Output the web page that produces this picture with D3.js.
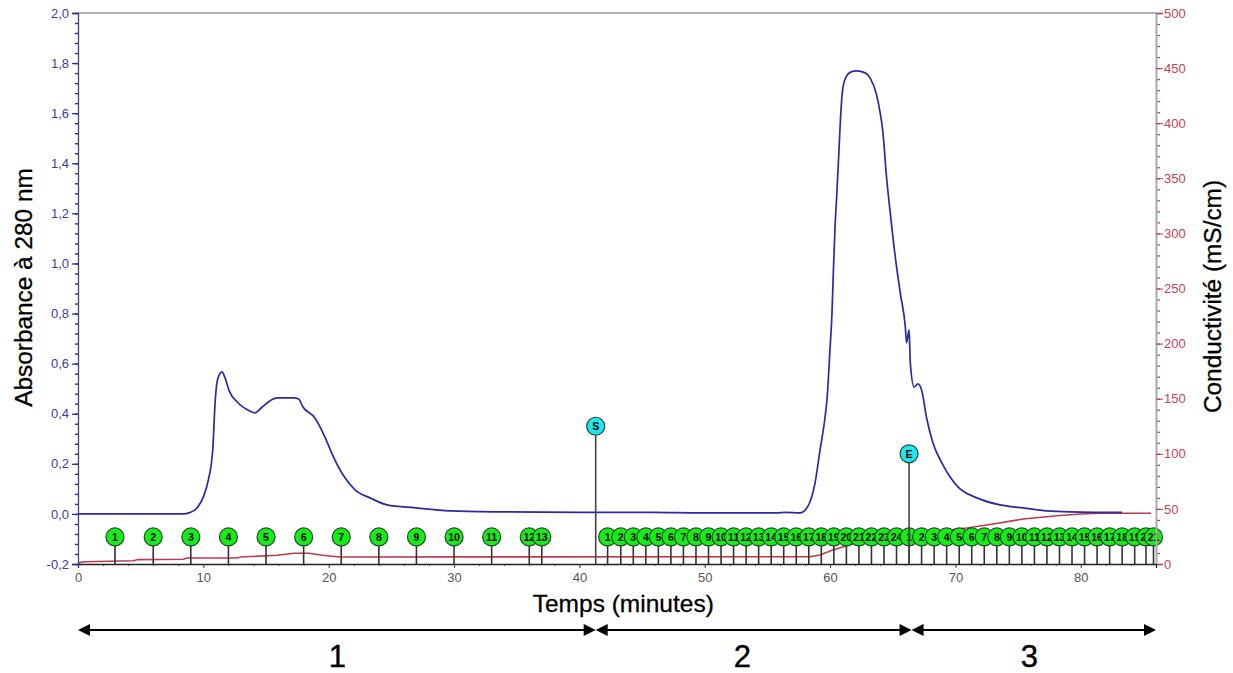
<!DOCTYPE html>
<html>
<head>
<meta charset="utf-8">
<script src="https://cdn.jsdelivr.net/npm/d3@7"></script>
<style>
  html, body { margin: 0; padding: 0; background: #fff; }
  svg { display: block; }
  text { font-family: "Liberation Sans", Arial, sans-serif; }
</style>
</head>
<body>
<div id="chart"></div>
<script>
// Values
var absTime = [0,8.4,8.9,9.5,10,10.4,10.75,10.95,11.15,11.5,11.7,12.1,12.7,13.7,14.1,14.7,15.3,15.9,17.2,17.6,17.95,18.9,19.7,20.3,21.3,22.1,23.3,24.65,26.9,29.7,33.7,40,45.9,49.6,55.8,56.4,57.6,58.2,58.8,59.2,59.6,59.75,59.99,60.15,60.27,60.39,60.55,60.71,60.87,61.03,61.27,61.67,62.1,62.8,63.2,63.7,64,64.2,64.5,64.8,65.2,65.6,66,66.1,66.3,66.4,66.7,67,67.3,67.7,68.2,69,70.2,71.7,73.55,75.4,77.3,79.1,82.9,83.3];
var absValues = [0,0,.005,.024,.068,.136,.256,.455,.54,.567,.547,.487,.447,.411,.403,.427,.451,.463,.463,.459,.427,.383,.307,.236,.144,.096,.064,.036,.024,.012,.008,.006,.006,.004,.004,.006,.004,.028,.124,.256,.387,.455,.655,.80,.98,1.14,1.29,1.454,1.613,1.705,1.745,1.765,1.769,1.761,1.74,1.675,1.60,1.53,1.346,1.202,1.026,.882,.747,.683,.735,.603,.507,.519,.495,.383,.284,.196,.108,.064,.036,.024,.012,.008,.006,.006];

var condTime = [0,.5,4.4,4.8,8.4,8.7,12.7,13,15.9,17.2,18.4,19.5,20.9,58.4,59.2,60.2,61.8,64,66.4,68.8,70.9,72.5,75.4,78.1,80,81.5,85.6];
var condValues = [1,2,3,4,4.3,5.4,5.4,6.4,7.9,9.7,9.7,7.9,6.4,6.6,8.2,12.7,18.1,21.8,26.3,30,32.7,35.4,40.8,43.8,45.4,46,46];

var fractions1 = [2.95,6,9,12,15,18,21,24,27,30,33,36,37];
var fractions2 = [42.25,43.3,44.3,45.3,46.3,47.3,48.3,49.3,50.3,51.3,52.3,53.3,54.3,55.3,56.3,57.3,58.3,59.3,60.3,61.3,62.3,63.3,64.3,65.3];
var fractions3 = [66.3,67.3,68.3,69.3,70.3,71.3,72.3,73.3,74.3,75.3,76.3,77.3,78.3,79.3,80.3,81.3,82.3,83.3,84.3,85.2,85.8];
var fractionLevel = -0.092;

var injectNames = ["S","E"];
var injectTimes = [41.3,66.3];
var injectLevels = [0.35,0.24];

var phaseEdges = [0,41.3,66.5,86];
var phaseNames = ["1","2","3"];
var phaseLabelTimes = [20.7,53,75.9];

var xTicks = [0,10,20,30,40,50,60,70,80];
var absTicks = [-0.2,0,0.2,0.4,0.6,0.8,1,1.2,1.4,1.6,1.8,2];
var condTicks = [0,50,100,150,200,250,300,350,400,450,500];

var margin = {top: 13, right: 77, bottom: 109, left: 78},
    width = 1233 - margin.left - margin.right,
    height = 673 - margin.top - margin.bottom;

var x = d3.scaleLinear().domain([0, 86]).range([0, width]);
var yAbs = d3.scaleLinear().domain([-0.2, 2]).range([height, 0]);
var yCond = d3.scaleLinear().domain([0, 500]).range([height, 0]);

var blue = "#2a2aa6", red = "#bb3a4c";

var svg = d3.select("#chart").append("svg")
    .attr("width", 1233)
    .attr("height", 673)
    .append("g")
    .attr("transform", "translate(" + margin.left + "," + margin.top + ")");

// top border
svg.append("line").attr("x1", 0).attr("x2", width).attr("y1", 0).attr("y2", 0)
    .attr("stroke", "#666").attr("stroke-width", 1);

// minor ticks, no labels
svg.append("g").call(d3.axisLeft(yAbs).tickValues(d3.range(-5, 51, 1).map(function(d){ return d * 0.04; })).tickSize(3).tickFormat(""))
    .call(function(g){ g.select(".domain").remove(); g.selectAll("line").attr("stroke", blue).attr("stroke-width", 1.4); });
svg.append("g").attr("transform", "translate(" + width + ",0)")
    .call(d3.axisRight(yCond).tickValues(d3.range(0, 501, 10)).tickSize(4).tickFormat(""))
    .call(function(g){ g.select(".domain").remove(); g.selectAll("line").attr("stroke", red).attr("stroke-width", 1.2); });
svg.append("g").attr("transform", "translate(0," + height + ")")
    .call(d3.axisBottom(x).tickValues(d3.range(0, 86, 2)).tickSize(2).tickFormat(""))
    .call(function(g){ g.select(".domain").remove(); g.selectAll("line").attr("stroke", "#555"); });

// curves
var absLine = d3.line().curve(d3.curveMonotoneX).x(function(d){ return x(d[0]); }).y(function(d){ return yAbs(d[1]); });
var condLine = d3.line().x(function(d){ return x(d[0]); }).y(function(d){ return yCond(d[1]); });

svg.append("path").datum(d3.zip(condTime, condValues))
    .attr("d", condLine).attr("fill", "none").attr("stroke", red).attr("stroke-width", 1.6);
svg.append("path").datum(d3.zip(absTime, absValues))
    .attr("d", absLine).attr("fill", "none").attr("stroke", blue).attr("stroke-width", 1.7);

// fraction markers
function drawMarkers(times, labels, levels, fill, stem, r) {
    var g = svg.append("g");
    var m = g.selectAll("g").data(times).enter().append("g");
    m.append("line")
        .attr("x1", function(d){ return x(d); }).attr("x2", function(d){ return x(d); })
        .attr("y1", function(d, i){ return yAbs(levels[i]); }).attr("y2", height)
        .attr("stroke", stem).attr("stroke-width", 1.6);
    m.append("circle")
        .attr("cx", function(d){ return x(d); })
        .attr("cy", function(d, i){ return yAbs(levels[i]); })
        .attr("r", r)
        .attr("fill", fill).attr("stroke", "#1f4a2a").attr("stroke-width", 1.2);
    m.append("text")
        .attr("x", function(d){ return x(d); })
        .attr("y", function(d, i){ return yAbs(levels[i]) + 3.8; })
        .attr("text-anchor", "middle")
        .attr("font-size", 10.5).attr("font-weight", "bold").attr("fill", "#000")
        .text(function(d, i){ return labels[i]; });
}
[fractions1, fractions2, fractions3].forEach(function(f){
    drawMarkers(f, f.map(function(d, i){ return i + 1; }), f.map(function(){ return fractionLevel; }), "#16ec16", "#333", 9);
});
drawMarkers(injectTimes, injectNames, injectLevels, "#1fe6ee", "#444", 9);

// axes with labels
svg.append("g")
    .call(d3.axisLeft(yAbs).tickValues(absTicks).tickSize(6).tickPadding(3)
        .tickFormat(function(d){ return d3.format(".1f")(d).replace(".", ",").replace("\u2212", "-"); }))
    .call(function(g){
        g.select(".domain").attr("stroke", "#44447a").attr("stroke-width", 1.3);
        g.selectAll("line").attr("stroke", blue).attr("stroke-width", 1.3);
        g.selectAll("text").attr("fill", "#3c3ca8").attr("font-size", 13).style("font-family", "'Liberation Sans'");
    });

svg.append("g").attr("transform", "translate(" + width + ",0)")
    .call(d3.axisRight(yCond).tickValues(condTicks).tickSize(7).tickPadding(1))
    .call(function(g){
        g.select(".domain").attr("stroke", "#b0a8aa").attr("stroke-width", 2);
        g.selectAll("line").attr("stroke", red).attr("stroke-width", 1);
        g.selectAll("text").attr("fill", "#c9405a").attr("font-size", 13).style("font-family", "'Liberation Sans'");
    });

svg.append("g").attr("transform", "translate(0," + height + ")")
    .call(d3.axisBottom(x).tickValues(xTicks).tickSize(4).tickPadding(5))
    .call(function(g){
        g.select(".domain").attr("stroke", "#222").attr("stroke-width", 1.3);
        g.selectAll("line").attr("stroke", "#444");
        g.selectAll("text").attr("fill", "#555").attr("font-size", 13).style("font-family", "'Liberation Sans'");
    });

// axis titles
svg.append("text").attr("transform", "translate(-46," + (height / 2 - 1) + ") rotate(-90)")
    .attr("text-anchor", "middle").attr("font-size", 24.4).attr("fill", "#000").attr("stroke", "#000").attr("stroke-width", 0.3).text("Absorbance à 280 nm");
svg.append("text").attr("transform", "translate(" + (width + 65) + "," + (height / 2 + 8) + ") rotate(-90)")
    .attr("text-anchor", "middle").attr("font-size", 24.4).attr("fill", "#000").attr("stroke", "#000").attr("stroke-width", 0.3).text("Conductivité (mS/cm)");
svg.append("text").attr("x", x(43.5)).attr("y", height + 48)
    .attr("text-anchor", "middle").attr("font-size", 24.5).attr("fill", "#000").attr("stroke", "#000").attr("stroke-width", 0.3).text("Temps (minutes)");

// phases under the axis
var arrowY = height + 66;
d3.range(phaseNames.length).forEach(function(i){
    var x0 = x(phaseEdges[i]), x1 = x(phaseEdges[i + 1]);
    svg.append("line").attr("x1", x0 + 4).attr("x2", x1 - 4).attr("y1", arrowY).attr("y2", arrowY)
        .attr("stroke", "#000").attr("stroke-width", 2);
    svg.append("path").attr("d", d3.line()([[x0, arrowY], [x0 + 12, arrowY - 6], [x0 + 12, arrowY + 6]]) + "Z").attr("fill", "#000");
    svg.append("path").attr("d", d3.line()([[x1, arrowY], [x1 - 12, arrowY - 6], [x1 - 12, arrowY + 6]]) + "Z").attr("fill", "#000");
    svg.append("text").attr("x", x(phaseLabelTimes[i])).attr("y", height + 103)
        .attr("text-anchor", "middle").attr("font-size", 31).attr("fill", "#000").attr("stroke", "#000").attr("stroke-width", 0.4).text(phaseNames[i]);
});
</script>
</body>
</html>
